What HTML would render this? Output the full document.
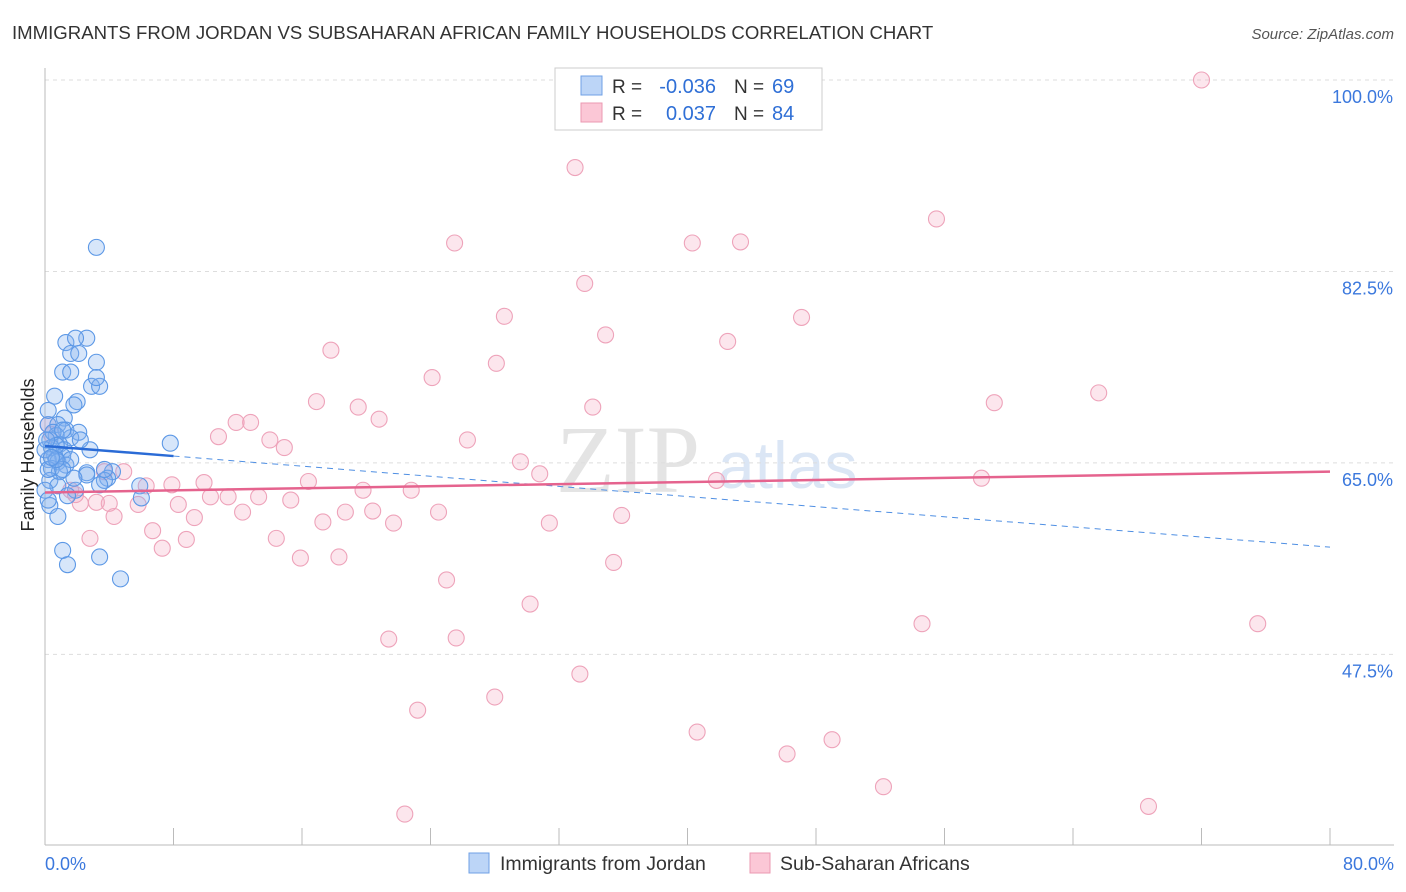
<!DOCTYPE html>
<html><head><meta charset="utf-8"><style>
body{margin:0;background:#fff;font-family:"Liberation Sans",sans-serif;}
#wrap{position:relative;width:1406px;height:892px;overflow:hidden}
</style></head><body>
<div id="wrap">
<svg id="svg" width="1406" height="892" xmlns="http://www.w3.org/2000/svg">
<text x="12" y="39" font-size="18.6" fill="#333">IMMIGRANTS FROM JORDAN VS SUBSAHARAN AFRICAN FAMILY HOUSEHOLDS CORRELATION CHART</text>
<text x="1394" y="39" font-size="15" fill="#555" font-style="italic" text-anchor="end">Source: ZipAtlas.com</text>
<text x="556" y="492" font-size="96" fill="#e4e4e4" font-family="Liberation Serif">ZIP</text>
<text x="718" y="488" font-size="66" fill="#dbe6f5">atlas</text>
<text transform="translate(34,455) rotate(-90)" font-size="18" fill="#222" text-anchor="middle">Family Households</text>
<g id="grid"></g><g id="marks"></g><g id="trend"></g>
<g>
<rect x="555" y="68" width="267" height="62" fill="#fff" stroke="#ccc"/>
<rect x="581" y="76" width="21" height="19" fill="#bcd5f7" stroke="#6fa0e6"/>
<rect x="581" y="103" width="21" height="19" fill="#fbc7d6" stroke="#eb98b2"/>
<text x="612" y="93" font-size="19" fill="#333">R =</text>
<text x="716" y="93" font-size="20" fill="#2f6fd6" text-anchor="end">-0.036</text>
<text x="734" y="93" font-size="19" fill="#333">N =</text>
<text x="772" y="93" font-size="20" fill="#2f6fd6">69</text>
<text x="612" y="120" font-size="19" fill="#333">R =</text>
<text x="716" y="120" font-size="20" fill="#2f6fd6" text-anchor="end">0.037</text>
<text x="734" y="120" font-size="19" fill="#333">N =</text>
<text x="772" y="120" font-size="20" fill="#2f6fd6">84</text>
</g>
<g>
<rect x="469" y="853" width="20" height="20" fill="#bcd5f7" stroke="#6fa0e6"/>
<text x="500" y="870" font-size="19.5" fill="#333">Immigrants from Jordan</text>
<rect x="750" y="853" width="20" height="20" fill="#fbc7d6" stroke="#eb98b2"/>
<text x="780" y="870" font-size="19.5" fill="#333">Sub-Saharan Africans</text>
</g>
</svg>
</div>
<script>
const xTicks=[0,8,16,24,32,40,48,56,64,72,80];
const yTicks=[47.5,65,82.5,100];
const yTickLabels=["47.5%","65.0%","82.5%","100.0%"];
const xLabels=["0.0%","80.0%"];
const jordanX=[3.2,1.3,2.6,1.9,1.6,2.1,3.2,1.1,1.6,2.9,3.4,3.2,0.6,2.0,1.8,1.2,0.2,0.8,1.3,2.1,0.7,1.6,0.3,0.9,0.4,1.2,2.8,0.6,1.1,0.2,0.8,1.3,0.4,0.9,2.6,4.2,3.9,3.7,2.6,0.3,0.8,1.9,1.4,3.4,5.9,7.8,0.3,0.8,1.1,1.4,3.4,4.7,0.0,0.5,0.2,0.0,1.6,2.2,0.7,1.1,1.8,0.2,6.0,0.2,3.7,0.1,0.7,1.1,0.4];
const jordanY=[84.7,76.0,76.4,76.4,75.0,75.0,74.2,73.3,73.3,72.0,72.0,72.8,71.1,70.6,70.3,69.1,68.5,68.5,68.0,67.8,67.5,67.3,67.1,66.7,66.4,66.2,66.2,65.7,65.6,65.3,65.1,64.8,64.5,64.2,64.1,64.2,63.6,63.4,63.9,63.4,62.9,62.5,62.0,63.0,62.9,66.8,61.1,60.1,57.0,55.7,56.4,54.4,66.2,67.8,64.4,62.5,65.3,67.1,66.6,64.4,63.6,61.6,61.8,69.8,64.4,67.1,65.3,68.0,65.5];
const ssaX=[72.0,33.0,55.5,25.5,40.3,43.3,33.6,28.6,47.1,34.9,42.5,17.8,28.1,24.1,65.6,16.9,59.1,19.5,34.1,11.9,12.8,20.8,10.8,14.0,26.3,14.9,29.6,30.8,41.8,58.3,3.7,4.9,6.3,9.9,16.4,19.8,22.8,7.9,10.3,11.4,13.3,15.3,3.2,2.2,4.0,5.8,8.3,18.7,20.4,24.5,12.3,4.3,9.3,17.3,21.7,31.4,35.9,6.7,2.8,8.8,14.4,7.3,15.9,18.3,35.4,25.0,30.2,21.4,25.6,54.6,75.5,33.3,28.0,23.2,40.6,49.0,46.2,52.2,68.7,22.4,1.6,1.9,0.2,0.4];
const ssaY=[100,92.0,87.3,85.1,85.1,85.2,81.4,78.4,78.3,76.7,76.1,75.3,74.1,72.8,71.4,70.6,70.5,70.1,70.1,68.7,68.7,69.0,67.4,67.1,67.1,66.4,65.1,64.0,63.4,63.6,64.2,64.2,62.9,63.2,63.3,62.5,62.5,63.0,61.9,61.9,61.9,61.6,61.4,61.3,61.3,61.2,61.2,60.5,60.6,60.5,60.5,60.1,60.0,59.6,59.5,59.5,60.2,58.8,58.1,58.0,58.1,57.2,56.3,56.4,55.9,54.3,52.1,48.9,49.0,50.3,50.3,45.7,43.6,42.4,40.4,39.7,38.4,35.4,33.6,32.9,62.5,62.1,68.5,67.6];
const jordanTrend=[66.55,57.3];
const ssaTrend=[62.3,64.2];

const NS="http://www.w3.org/2000/svg";
const X=v=>45+v*(1330-45)/80;
const Y=v=>80+(100-v)*10.94;
function mk(tag,attrs,parent){const e=document.createElementNS(NS,tag);for(const k in attrs)e.setAttribute(k,attrs[k]);document.getElementById(parent).appendChild(e);return e;}
yTicks.forEach((t,i)=>{
 const l=mk('line',{x1:45,x2:1394,y1:Y(t),y2:Y(t),stroke:'#ddd','stroke-dasharray':'4,4'},'grid');
 
 
 const tx=mk('text',{x:1393,y:Y(t)+23,'font-size':18,fill:'#3b78dd','text-anchor':'end'},'grid');
 tx.textContent=yTickLabels[i];
 
 
});
const ax=mk('line',{x1:45,x2:1394,y1:845,y2:845,stroke:'#bbb'},'grid');


const ay=mk('line',{x1:45,x2:45,y1:68,y2:845,stroke:'#bbb'},'grid');


xTicks.forEach(t=>{
 const l=mk('line',{x1:X(t),x2:X(t),y1:828,y2:845,stroke:'#bbb'},'grid');
 
 
});
[[0,'start',45],[80,'end',1394]].forEach((d,i)=>{
 const tx=mk('text',{x:d[2],y:870,'font-size':18,fill:'#3b78dd','text-anchor':d[1]},'grid');
 tx.textContent=xLabels[i];
 
 
});
ssaX.forEach((v,i)=>{
 const c=mk('circle',{cx:X(v),cy:Y(ssaY[i]),r:8,fill:'rgba(246,165,190,0.28)',stroke:'#eea3ba','stroke-width':1.1},'marks');
 
 
});
jordanX.forEach((v,i)=>{
 const c=mk('circle',{cx:X(v),cy:Y(jordanY[i]),r:8,fill:'rgba(130,178,240,0.32)',stroke:'#5c98e6','stroke-width':1.1},'marks');
 
 
});
const jy=x=>jordanTrend[0]+(jordanTrend[1]-jordanTrend[0])*x/80;
const t1=mk('line',{x1:X(8),y1:Y(jy(8)),x2:X(80),y2:Y(jy(80)),stroke:'#4f8fe3','stroke-width':1,'stroke-dasharray':'6,5'},'trend');


const t2=mk('line',{x1:X(0),y1:Y(jy(0)),x2:X(8),y2:Y(jy(8)),stroke:'#2a6bd6','stroke-width':2.5},'trend');


const t3=mk('line',{x1:X(0),y1:Y(ssaTrend[0]),x2:X(80),y2:Y(ssaTrend[1]),stroke:'#e5638e','stroke-width':2.5},'trend');


</script>
</body></html>
